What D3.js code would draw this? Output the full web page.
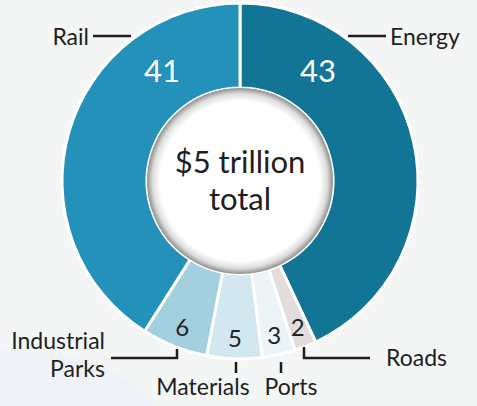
<!DOCTYPE html>
<html>
<head>
<meta charset="utf-8">
<script src="https://cdn.jsdelivr.net/npm/d3@7"></script>
<style>
  html, body { margin: 0; padding: 0; background: #f4f6f6; }
  svg { display: block; font-family: Lato, "Open Sans", sans-serif; }
</style>
</head>
<body>
<svg id="chart" width="477" height="406"></svg>
<script>
// Sectors, clockwise from 12 o'clock
const sectors = ["Energy", "Roads", "Ports", "Materials", "Industrial Parks", "Rail"];
const shares  = [43, 2, 3, 5, 6, 41];
const colors  = ["#137595", "#e3dcdc", "#ebf4f7", "#d3e7f1", "#a4cfdf", "#2391b9"];
const centerLines = ["$5 trillion", "total"];

const W = 477, H = 406;
const cx = 240, cy = 181;
const rOuter = 178, rInner = 93;

const svg = d3.select("#chart");

// soft backdrop shapes
svg.append("rect").attr("width", W).attr("height", H).attr("fill", "#f4f6f6");
svg.append("ellipse").attr("cx", 10).attr("cy", 430).attr("rx", 150).attr("ry", 80)
  .attr("fill", "#eff3f8");

const defs = svg.append("defs");
const grad = defs.append("radialGradient").attr("id", "hole");
grad.append("stop").attr("offset", "0%").attr("stop-color", "#ffffff");
grad.append("stop").attr("offset", "86%").attr("stop-color", "#ffffff");
grad.append("stop").attr("offset", "94%").attr("stop-color", "#dcdcdc");
grad.append("stop").attr("offset", "100%").attr("stop-color", "#8e8e8e");

const data = sectors.map((s, i) => ({ name: s, value: shares[i], color: colors[i] }));

const pie = d3.pie().sort(null).value(d => d.value).startAngle(0).endAngle(2 * Math.PI);
const arcs = pie(data);
const arc = d3.arc().innerRadius(rInner).outerRadius(rOuter);

const g = svg.append("g").attr("transform", `translate(${cx},${cy})`);

g.selectAll("path.slice")
  .data(arcs)
  .join("path")
  .attr("class", "slice")
  .attr("d", arc)
  .attr("fill", d => d.data.color)
  .attr("stroke", "#ffffff")
  .attr("stroke-width", 3)
  .attr("stroke-linejoin", "round");

// centre disc
g.append("circle").attr("r", rInner).attr("fill", "url(#hole)");

g.selectAll("text.center")
  .data(centerLines)
  .join("text")
  .attr("class", "center")
  .attr("text-anchor", "middle")
  .attr("y", (d, i) => -8 + i * 37)
  .attr("font-size", 31)
  .attr("fill", "#1e1e1e")
  .text(d => d);

// value labels: large slices get white numbers in the upper ring, small ones sit at the centroid angle
const polar = (angle, r) => [Math.sin(angle) * r, -Math.cos(angle) * r];
const bigAngle = 35 * Math.PI / 180;

g.selectAll("text.value")
  .data(arcs)
  .join("text")
  .attr("class", "value")
  .attr("text-anchor", "middle")
  .attr("dominant-baseline", "central")
  .each(function (d) {
    const big = d.data.value > 20;
    const mid = (d.startAngle + d.endAngle) / 2;
    const a = big ? (mid < Math.PI ? bigAngle : -bigAngle) : mid;
    const [x, y] = polar(a, big ? 136 : 157);
    d3.select(this)
      .attr("x", x).attr("y", y)
      .attr("font-size", big ? 31 : 24)
      .attr("fill", big ? "#ffffff" : "#222222")
      .text(d.data.value);
  });

// category labels with leader lines
const ink = "#1e1e1e";
const lab = svg.append("g").attr("font-size", 23).attr("fill", ink);
const lines = svg.append("g").attr("stroke", ink).attr("stroke-width", 2.5).attr("fill", "none");

// Rail
lab.append("text").attr("x", 89).attr("y", 45).attr("text-anchor", "end").text("Rail");
lines.append("path").attr("d", "M93,36H131");
// Energy
lab.append("text").attr("x", 390).attr("y", 45).text("Energy");
lines.append("path").attr("d", "M348,36H386");
// Industrial Parks
lab.append("text").attr("x", 105).attr("y", 349).attr("text-anchor", "end").text("Industrial");
lab.append("text").attr("x", 105).attr("y", 377).attr("text-anchor", "end").text("Parks");
lines.append("path").attr("d", "M111,358H177V349");
// Materials
lab.append("text").attr("x", 203).attr("y", 395).attr("text-anchor", "middle").text("Materials");
lines.append("path").attr("d", "M236,362V373");
// Ports
lab.append("text").attr("x", 291).attr("y", 395).attr("text-anchor", "middle").text("Ports");
lines.append("path").attr("d", "M281,362V373");
// Roads
lab.append("text").attr("x", 386).attr("y", 366).text("Roads");
lines.append("path").attr("d", "M304,347V358H370");
</script>
</body>
</html>
